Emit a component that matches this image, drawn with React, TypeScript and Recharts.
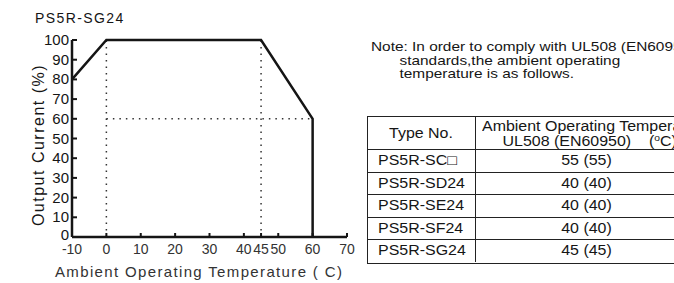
import React from 'react';
import { LineChart, Line, XAxis, YAxis, ReferenceLine } from 'recharts';

const temperatures = [-10, 0, 45, 60, 60];
const outputCurrent = [80, 100, 100, 60, 0];
const xTicks = [-10, 0, 10, 20, 30, 40, 45, 50, 60, 70];
const yTicks = [0, 10, 20, 30, 40, 50, 60, 70, 80, 90, 100];
const guideTemps = [0, 45];
const guideCurrent = 60;
const guideEnd = 60;
const typeNos = ['PS5R-SC\u25A1', 'PS5R-SD24', 'PS5R-SE24', 'PS5R-SF24', 'PS5R-SG24'];
const ulTemps = ['55 (55)', '40 (40)', '40 (40)', '40 (40)', '45 (45)'];

const data = temperatures.map((t, i) => ({ t, v: outputCurrent[i] }));

const FONT = '"Liberation Sans", Arial, Helvetica, sans-serif';
const INK = '#151515';

const YTick = (props: any) => {
  const { x, y, payload } = props;
  return (
    <g>
      <line x1={x + 4} x2={x + 9} y1={y} y2={y} stroke={INK} strokeWidth={2} />
      <text x={x + 1} y={y + (payload.value === 0 ? 3 : 5)} textAnchor="end" fontSize={15} fill={INK} fontFamily={FONT}>
        {payload.value}
      </text>
    </g>
  );
};

const XTick = (props: any) => {
  const { x, y, payload } = props;
  return (
    <g>
      <line x1={x} x2={x} y1={y - 4} y2={y - 8} stroke={INK} strokeWidth={2} />
      <text x={x} y={y + 13} textAnchor="middle" fontSize={14} fill="#333" fontFamily={FONT}>
        {payload.value}
      </text>
    </g>
  );
};

const rowTop = 149;
const rowH = 22.6;
const stretch = 'scaleX(1.14)';

export default function App() {
  return (
    <div
      style={{
        position: 'fixed',
        left: 0,
        top: 0,
        width: 674,
        height: 283,
        overflow: 'hidden',
        background: '#fff',
        fontFamily: FONT,
        color: INK,
      }}
    >
      <div style={{ position: 'absolute', left: 0, top: 0 }}>
        <LineChart width={674} height={283} data={data} margin={{ top: 40, right: 327, bottom: 0, left: 0 }}>
          <XAxis
            type="number"
            dataKey="t"
            domain={[-10, 70]}
            ticks={xTicks}
            interval={0}
            height={46}
            tickSize={0}
            tickMargin={4}
            tickLine={false}
            axisLine={{ stroke: INK, strokeWidth: 2.5 }}
            tick={<XTick />}
          />
          <YAxis
            type="number"
            domain={[0, 100]}
            ticks={yTicks}
            interval={0}
            width={72}
            tickSize={0}
            tickMargin={4}
            tickLine={false}
            axisLine={{ stroke: INK, strokeWidth: 2.5 }}
            tick={<YTick />}
          />
          {guideTemps.map((g) => (
            <ReferenceLine
              key={g}
              segment={[{ x: g, y: 0 }, { x: g, y: 100 }]}
              stroke="#333"
              strokeWidth={1.5}
              strokeDasharray="1.5 5"
            />
          ))}
          <ReferenceLine
            segment={[{ x: 0, y: guideCurrent }, { x: guideEnd, y: guideCurrent }]}
            stroke="#333"
            strokeWidth={1.5}
            strokeDasharray="1.5 5"
          />
          <Line
            type="linear"
            dataKey="v"
            stroke={INK}
            strokeWidth={2.5}
            dot={false}
            isAnimationActive={false}
          />
        </LineChart>
      </div>
      <svg width={674} height={283} style={{ position: 'absolute', left: 0, top: 0, pointerEvents: 'none' }}>
        <text x={35} y={23} fontSize={14} letterSpacing={1.4} fill={INK} fontFamily={FONT}>PS5R-SG24</text>
        <text
          x={0}
          y={0}
          transform="translate(44,145) rotate(-90)"
          textAnchor="middle"
          fontSize={16}
          letterSpacing={1.5}
          fill={INK}
          fontFamily={FONT}
        >
          Output Current (%)
        </text>
        <text x={55} y={277} fontSize={15} letterSpacing={1.35} fill="#333" fontFamily={FONT}>
          Ambient Operating Temperature ( C)
        </text>
      </svg>
      <div
        style={{
          position: 'absolute',
          left: 371,
          top: 40,
          fontSize: 13.5,
          lineHeight: '13.5px',
          whiteSpace: 'nowrap',
          transform: stretch,
          transformOrigin: 'left top',
        }}
      >
        <div>Note: In order to comply with UL508 (EN60950)</div>
        <div style={{ paddingLeft: 25 }}>standards,the ambient operating</div>
        <div style={{ paddingLeft: 25 }}>temperature is as follows.</div>
      </div>
      {/* table */}
      <div style={{ position: 'absolute', left: 367, top: 116, width: 400, height: 146, border: '1px solid #222', borderRight: 'none' }} />
      <div style={{ position: 'absolute', left: 475, top: 116, width: 1, height: 146, background: '#222' }} />
      <div
        style={{
          position: 'absolute',
          left: 367,
          top: 125,
          width: 108,
          textAlign: 'center',
          fontSize: 14,
          transform: stretch,
        }}
      >
        Type No.
      </div>
      <div
        style={{
          position: 'absolute',
          left: 482,
          top: 119,
          fontSize: 14,
          whiteSpace: 'nowrap',
          lineHeight: '15px',
          transform: stretch,
          transformOrigin: 'left top',
        }}
      >
        <div>Ambient Operating Temperature</div>
        <div style={{ paddingLeft: 18 }}>
          UL508 (EN60950)&nbsp;&nbsp;&nbsp;&nbsp;(<span style={{ fontSize: 9, position: 'relative', top: -5 }}>o</span>C)
        </div>
      </div>
      {typeNos.map((t, i) => (
        <React.Fragment key={t}>
          <div style={{ position: 'absolute', left: 367, top: rowTop + i * rowH, width: 400, height: 1, background: '#222' }} />
          <div
            style={{
              position: 'absolute',
              left: 378,
              top: rowTop + i * rowH + 3,
              fontSize: 14,
              whiteSpace: 'nowrap',
              transform: stretch,
              transformOrigin: 'left top',
            }}
          >
            {t}
          </div>
          <div
            style={{
              position: 'absolute',
              left: 475,
              width: 223,
              textAlign: 'center',
              top: rowTop + i * rowH + 3,
              fontSize: 14,
              transform: stretch,
            }}
          >
            {ulTemps[i]}
          </div>
        </React.Fragment>
      ))}
    </div>
  );
}
